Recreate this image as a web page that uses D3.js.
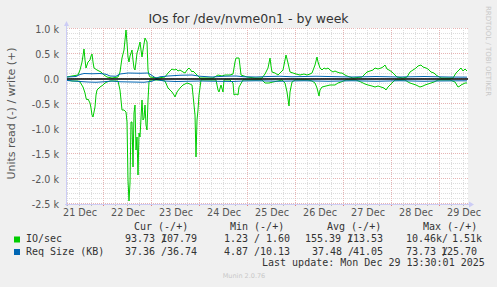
<!DOCTYPE html>
<html>
<head>
<meta charset="utf-8">
<script src="https://cdn.jsdelivr.net/npm/d3@7"></script>
<style>
  body { margin: 0; background: #f0f0f0; }
  svg { display: block; }
</style>
</head>
<body>
<svg id="chart" width="497" height="287"></svg>
<script>
// all times are hours counted from 21 Dec 2025 00:00
var writeHours = [5.5, 8, 11, 12, 13, 14, 14.5, 15, 16, 17, 17.5, 18, 18.5, 19, 20.5, 21.5, 22.5, 24, 25.5, 28,
    31, 32, 33, 34, 34.5, 35, 35.5, 36, 36.5, 37, 38, 38.5, 39, 39.5, 40, 40.5, 41, 42, 42.5, 43,
    43.5, 44, 44.5, 45, 45.5, 46, 46.5, 47, 51, 54.5, 56, 57, 58, 59, 60, 61, 62, 63.5, 64.5, 65.5,
    66.5, 67, 68, 68.5, 69.5, 70.5, 72, 78.5, 81, 83, 84.5, 87, 88.5, 89.5, 90, 91.5, 92, 92.5, 95.5, 99.5,
    103, 104.5, 106, 107, 107.5, 108, 109.5, 111, 112.5, 113.5, 114.5, 115, 116, 117, 118.5, 120, 122, 124, 125.5, 127,
    128, 129.5, 130.5, 131, 132, 133, 134, 135, 136, 137, 138.5, 139.5, 140.5, 142, 143, 144.5, 145.5, 148.5, 153, 154.5,
    155.5, 157, 158.5, 159.5, 161, 162.5, 163.5, 164.5, 165.5, 166.5, 168, 169.5, 170.5, 173.5, 175.5, 177, 178.5, 180, 181, 182.5,
    183.5, 185, 186, 187.5, 189, 190, 192.5, 198.5, 200, 201, 202.5, 203.5, 204.5, 205.5];
var writeIO = [40, 60, 80, 180, 340, 600, 380, 220, 340, 380, 460, 500, 340, 220, 180, 160, 140, 80, 40, 20,
    40, 140, 420, 580, 780, 980, 720, 440, 340, 460, 580, 380, 220, 180, 340, 520, 580, 740, 580, 440,
    580, 700, 820, 780, 740, 180, 80, 40, 20, 40, 120, 160, 200, 180, 200, 160, 180, 140, 120, 180,
    220, 200, 140, 160, 120, 80, 20, 20, 80, 60, 80, 80, 100, 340, 420, 420, 260, 80, 40, 20,
    20, 100, 220, 420, 260, 140, 120, 80, 140, 180, 380, 480, 320, 140, 120, 100, 80, 100, 80, 100,
    120, 280, 440, 340, 220, 180, 220, 200, 220, 180, 140, 160, 140, 120, 120, 80, 60, 20, 40, 100,
    140, 160, 180, 220, 200, 220, 240, 280, 200, 180, 140, 80, 40, 20, 40, 140, 180, 220, 260, 280,
    240, 220, 200, 140, 120, 80, 20, 20, 120, 160, 220, 160, 200, 160];

var readHours = [5.5, 8, 11, 12, 13.5, 14.5, 15, 15.5, 16, 17, 17.5, 18, 18.5, 19, 19.5, 20, 20.5, 22, 23.5, 24.5,
    25.5, 27, 31, 32, 32.5, 33, 34, 35, 35.5, 36, 36.5, 37, 37.5, 38, 38.5, 39, 39.5, 40, 40.5, 41,
    41.5, 42, 42.5, 43, 43.5, 44, 44.5, 45, 45.5, 46, 46.5, 47, 52, 54.5, 56, 57, 58, 59, 59.5, 60.5,
    62, 63.5, 64.5, 65.5, 67, 68, 68.5, 69, 69.5, 70, 70.5, 71, 71.5, 72.5, 80, 81, 81.5, 82.5, 83.5, 84,
    87, 88.5, 89, 90, 91, 91.5, 93.5, 99.5, 103, 104.5, 106.5, 108.5, 111, 113, 114.5, 115.5, 116.5, 117, 118, 119.5,
    126, 128, 129.5, 130.5, 131.5, 132, 133, 135, 137, 139.5, 141, 142.5, 145, 150, 152.5, 154.5, 156, 158, 159.5, 161,
    162.5, 164, 165, 166, 167, 168.5, 169.5, 174.5, 176, 177, 178.5, 180, 181, 182, 183.5, 184.5, 186, 187.5, 189, 191,
    197, 199.5, 201, 202, 202.5, 204.5, 205.5];
var readIO = [20, 40, 40, 60, 160, 280, 380, 420, 400, 480, 580, 720, 760, 660, 560, 320, 220, 160, 120, 80,
    60, 40, 40, 220, 420, 620, 620, 660, 860, 2020, 2440, 2080, 860, 860, 1760, 680, 520, 1420, 1160, 1920,
    1080, 1160, 780, 420, 820, 780, 520, 920, 1020, 420, 60, 20, 20, 40, 180, 220, 260, 320, 360, 260,
    180, 120, 100, 80, 100, 120, 320, 520, 720, 1560, 820, 620, 320, 20, 20, 220, 260, 120, 260, 20,
    20, 80, 320, 300, 320, 160, 20, 20, 20, 80, 80, 60, 40, 20, 80, 260, 540, 260, 60, 20,
    20, 40, 80, 180, 340, 220, 160, 140, 120, 120, 80, 60, 20, 20, 60, 100, 120, 140, 160, 140,
    160, 180, 220, 160, 120, 60, 20, 20, 60, 80, 100, 120, 140, 160, 140, 120, 100, 80, 60, 20,
    20, 60, 160, 140, 120, 80, 80];

var sizeWriteHours = [5.5, 10, 12, 14, 18, 22, 25, 27, 30, 32, 36, 42, 46, 48, 50, 52, 56, 62, 68, 72,
    78, 84, 90, 94, 100, 106, 112, 118, 124, 130, 136, 142, 148, 154, 160, 166, 172, 178, 184, 190,
    196, 202, 205.5];
var sizeWriteKB = [40, 50, 90, 110, 105, 110, 95, 60, 55, 100, 120, 115, 120, 70, 15, 45, 60, 75, 80, 55,
    40, 55, 60, 45, 40, 50, 55, 45, 50, 55, 50, 45, 40, 45, 50, 45, 40, 45, 50, 45,
    40, 38, 37];
var sizeReadHours = [5.5, 12, 16, 20, 24, 28, 32, 38, 44, 48, 50, 54, 60, 66, 72, 80, 88, 94, 100, 106,
    112, 118, 124, 130, 136, 142, 148, 154, 160, 166, 172, 178, 184, 190, 196, 202, 205.5];
var sizeReadKB = [30, 50, 60, 65, 55, 40, 55, 60, 65, 45, 10, 40, 50, 45, 40, 45, 50, 40, 35, 40,
    45, 40, 35, 40, 45, 40, 35, 40, 45, 40, 35, 40, 45, 40, 38, 36, 37];

var dayLabels = ["21 Dec", "22 Dec", "23 Dec", "24 Dec", "25 Dec", "26 Dec", "27 Dec", "28 Dec", "29 Dec"];
var yTickValues = [1000, 500, 0, -500, -1000, -1500, -2000, -2500];
var yTickLabels = ["1.0 k", "0.5 k", "0.0", "-0.5 k", "-1.0 k", "-1.5 k", "-2.0 k", "-2.5 k"];

var legendNames = ["IO/sec", "Req Size (KB)"];
var legendColors = ["#00cc00", "#0066b3"];
var legendHeads = ["Cur (-/+)", "Min (-/+)", "Avg (-/+)", "Max (-/+)"];
var legendRead = [["93.73 /", "1.23 /", "155.39 /", "10.46k/"], ["37.36 /", "4.87 /", "37.48 /", "73.73 /"]];
var legendWrite = [["107.79", "1.60", "113.53", "1.51k"], ["36.74", "10.13", "41.05", "125.70"]];

var svg = d3.select("#chart");
var start = new Date(2025, 11, 21);
function hourDate(h) { return new Date(start.getTime() + h * 3600000); }

var x = d3.scaleTime().domain([hourDate(5.5), hourDate(205.5)]).range([67, 467]),
    y = d3.scaleLinear().domain([-2500, 1000]).range([204, 29]);

var plotLeft = 67, plotRight = 467, plotTop = 29, plotBottom = 204;

svg.append("rect").attr("width", 497).attr("height", 287).attr("fill", "#f0f0f0");
svg.append("rect").attr("x", plotLeft).attr("y", plotTop - 1)
    .attr("width", plotRight - plotLeft + 1).attr("height", plotBottom - plotTop + 1).attr("fill", "#fff");

// grid
var g = svg.append("g");
d3.range(-2500, 1001, 100).forEach(function(v) {
    var major = (v % 500 == 0);
    g.append("line")
        .attr("x1", plotLeft).attr("x2", plotRight + 1)
        .attr("y1", Math.round(y(v)) - 0.5).attr("y2", Math.round(y(v)) - 0.5)
        .attr("stroke", major ? "#e6b4b4" : "#dcdcdc")
        .attr("stroke-dasharray", "1,1");
});
var sixHours = d3.range(6, 205.5, 6);
sixHours.forEach(function(h) {
    var major = (h % 24 == 0);
    var px = Math.round(x(hourDate(h))) - 0.5;
    g.append("line")
        .attr("x1", px).attr("x2", px)
        .attr("y1", plotTop - 1).attr("y2", plotBottom)
        .attr("stroke", major ? "#e6b4b4" : "#dcdcdc")
        .attr("stroke-dasharray", "1,1");
    g.append("line")
        .attr("x1", px).attr("x2", px)
        .attr("y1", plotBottom).attr("y2", plotBottom + 2)
        .attr("stroke", major ? "#e08080" : "#bbbbbb");
});

// axes frame with arrows
svg.append("line").attr("x1", plotLeft - 0.5).attr("x2", plotLeft - 0.5).attr("y1", plotBottom + 2).attr("y2", 23)
    .attr("stroke", "#ccccf5");
svg.append("path").attr("d", "M64,26L69,26L66.5,21Z").attr("fill", "#ccccf5");
svg.append("line").attr("x1", plotLeft - 2).attr("x2", plotRight + 3).attr("y1", plotBottom + 0.5).attr("y2", plotBottom + 0.5)
    .attr("stroke", "#ccccf5");
svg.append("path").attr("d", "M469,201.5L469,207.5L474,204.5Z").attr("fill", "#ccccf5");

// y tick labels
svg.selectAll(".ylab").data(yTickValues).enter().append("text")
    .attr("x", 59).attr("y", function(d) { return y(d) + 3.5; })
    .attr("text-anchor", "end")
    .style("font", "9.6px 'DejaVu Sans'")
    .attr("fill", "#555")
    .text(function(d, i) { return yTickLabels[i]; });

// x tick labels at noon
svg.selectAll(".xlab").data(dayLabels).enter().append("text")
    .attr("x", function(d, i) { return x(hourDate(12 + 24 * i)); })
    .attr("y", 216)
    .attr("text-anchor", "middle")
    .style("font", "9.6px 'DejaVu Sans'")
    .attr("fill", "#555")
    .text(function(d) { return d; });

// series
svg.append("clipPath").attr("id", "plotclip").append("rect")
    .attr("x", plotLeft).attr("y", plotTop - 1)
    .attr("width", plotRight - plotLeft + 1).attr("height", plotBottom - plotTop + 1);
var plot = svg.append("g").attr("clip-path", "url(#plotclip)");

function drawSeries(hours, values, sign, color) {
    var pts = hours.map(function(h, i) { return [hourDate(h), sign * values[i]]; });
    plot.append("path")
        .datum(pts)
        .attr("fill", "none")
        .attr("stroke", color)
        .attr("stroke-width", 1)
        .attr("d", d3.line()
            .x(function(d) { return x(d[0]); })
            .y(function(d) { return y(d[1]); }));
}
drawSeries(readHours, readIO, -1, "#00cc00");
drawSeries(writeHours, writeIO, 1, "#00cc00");
drawSeries(sizeReadHours, sizeReadKB, -1, "#0066b3");
drawSeries(sizeWriteHours, sizeWriteKB, 1, "#0066b3");

// zero rule
svg.append("line").attr("x1", plotLeft).attr("x2", plotRight + 1).attr("y1", y(0)).attr("y2", y(0))
    .attr("stroke", "#000").attr("stroke-width", 1.5);

// title and labels
svg.append("text").attr("x", 248.5).attr("y", 23).attr("text-anchor", "middle")
    .style("font", "12.5px 'DejaVu Sans'").attr("fill", "#333")
    .text("IOs for /dev/nvme0n1 - by week");
svg.append("text").attr("transform", "translate(14.5,113.5) rotate(-90)").attr("text-anchor", "middle")
    .style("font", "11px 'DejaVu Sans'").attr("fill", "#555")
    .text("Units read (-) / write (+)");
svg.append("text").attr("transform", "translate(486,51) rotate(90)").attr("text-anchor", "middle")
    .style("font", "7px 'DejaVu Sans'").attr("fill", "#c8c8c8")
    .text("RRDTOOL / TOBI OETIKER");

// legend
var mono = "10px 'DejaVu Sans Mono'";
var headX = [134, 230, 327, 423];
legendHeads.forEach(function(h, i) {
    svg.append("text").attr("x", headX[i]).attr("y", 229.5).style("font", mono).attr("fill", "#333")
        .style("white-space", "pre").text(h);
});
var rowY = [242, 254.5];
var readX = [[125, 224, 305, 406], [125, 224, 312, 406]];
var writeEnd = [[197, 290, 383, 482], [197, 290, 383, 477]];
legendNames.forEach(function(name, r) {
    svg.append("rect").attr("x", 14).attr("y", rowY[r] - 5.5).attr("width", 6).attr("height", 6)
        .attr("fill", legendColors[r]);
    svg.append("text").attr("x", 26).attr("y", rowY[r]).style("font", mono).attr("fill", "#333")
        .style("white-space", "pre").text(name);
    for (var c = 0; c < 4; c++) {
        svg.append("text").attr("x", readX[r][c]).attr("y", rowY[r]).style("font", mono).attr("fill", "#333")
            .style("white-space", "pre").text(legendRead[r][c]);
        svg.append("text").attr("x", writeEnd[r][c]).attr("y", rowY[r]).attr("text-anchor", "end")
            .style("font", mono).attr("fill", "#333").text(legendWrite[r][c]);
    }
});
svg.append("text").attr("x", 262).attr("y", 266).style("font", mono).attr("fill", "#333")
    .text("Last update: Mon Dec 29 13:30:01 2025");
svg.append("text").attr("x", 244).attr("y", 278).attr("text-anchor", "middle")
    .style("font", "6.5px 'DejaVu Sans'").attr("fill", "#c8c8c8")
    .text("Munin 2.0.76");
</script>
</body>
</html>
